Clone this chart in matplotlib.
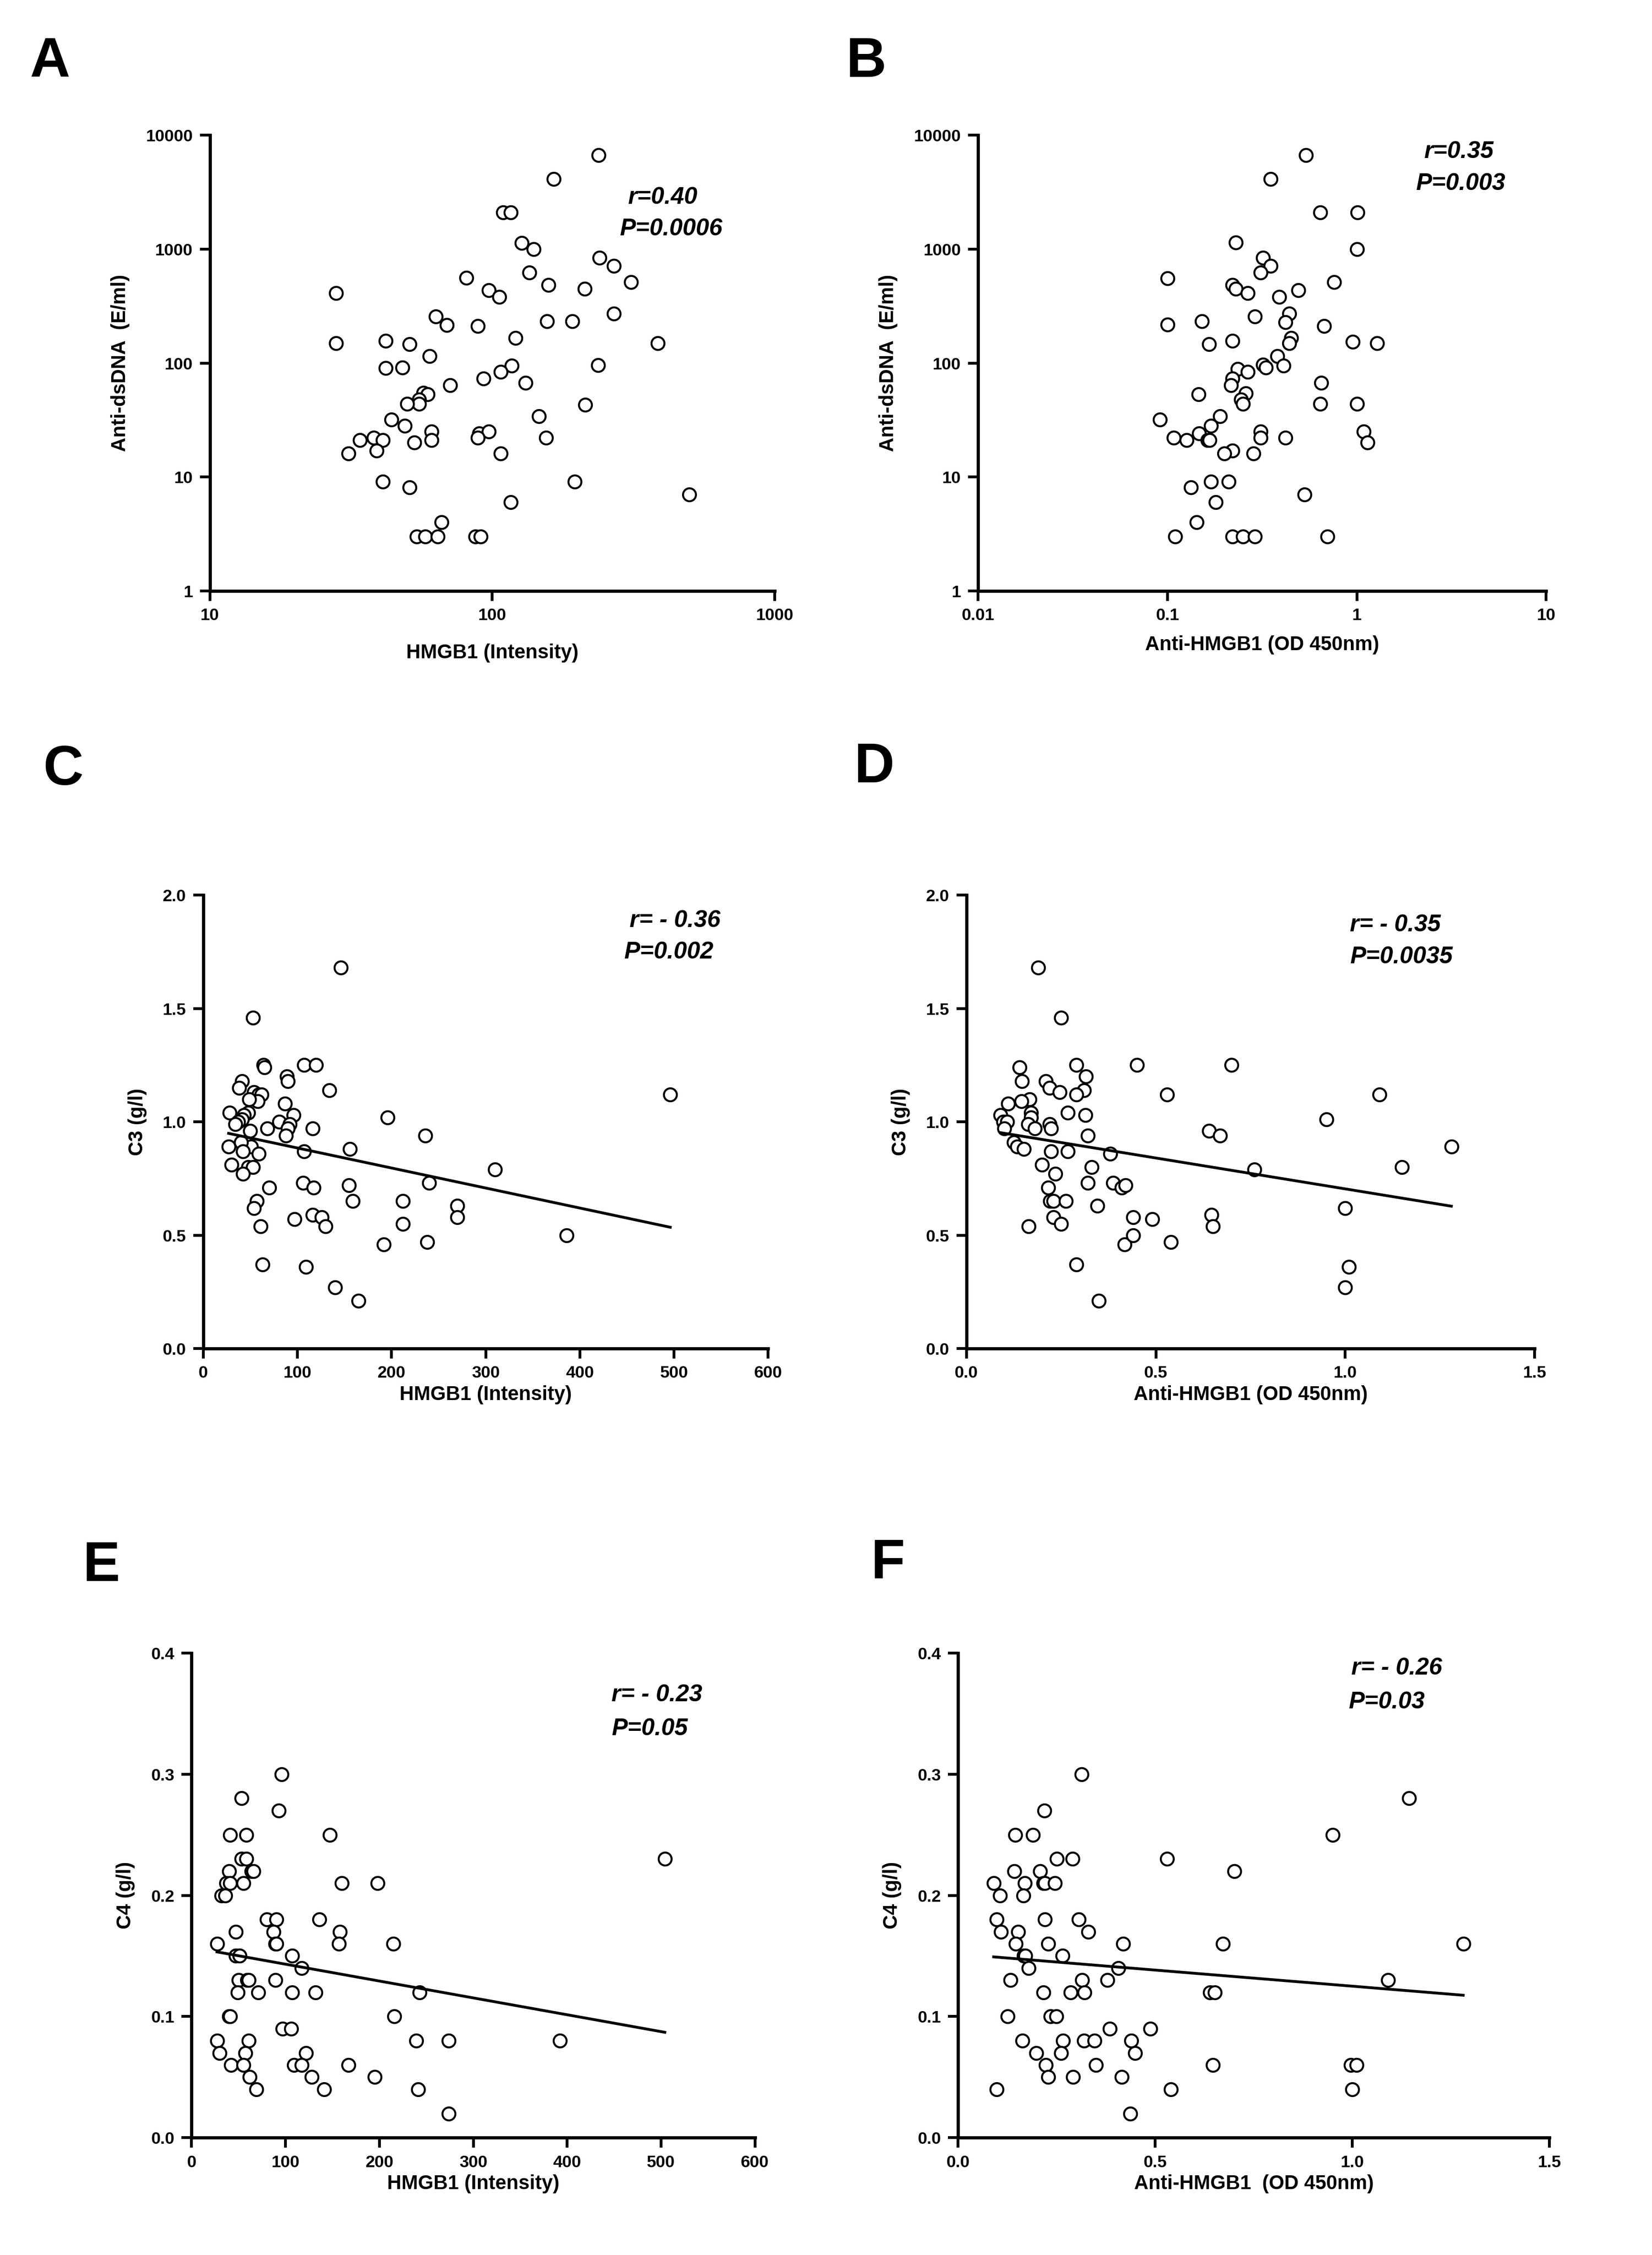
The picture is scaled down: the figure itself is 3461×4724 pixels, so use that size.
import numpy as np
import matplotlib
matplotlib.use("Agg")
import matplotlib.pyplot as plt
from matplotlib.ticker import FixedLocator, FixedFormatter, NullLocator

plt.rcParams['font.family'] = ['Liberation Sans', 'DejaVu Sans']
plt.rcParams['font.weight'] = 'bold'

# panel A: HMGB1 intensity vs anti-dsDNA
a_x = [238, 165, 109, 116, 127, 140, 240, 269, 135, 81, 310, 158, 212, 97, 106, 28, 269, 63,
       69, 89, 156, 192, 28, 42, 51, 385, 121, 60, 42, 48, 237, 117, 107, 93, 131, 71, 57, 59,
       55, 55, 50, 213, 146, 44, 49, 61, 61, 90, 97, 89, 155, 34, 38, 41, 53, 39, 31, 107, 41,
       51, 196, 116, 497, 66, 54, 58, 64, 87, 91]
a_y = [6700, 4150, 2110, 2110, 1130, 1000, 840, 714, 624, 558, 515, 484, 448, 437, 381, 410, 272,
       256, 216, 211, 232, 232, 149, 157, 146, 149, 166, 115, 90, 91, 96, 95, 84, 73, 67, 64, 55,
       53, 48, 44, 44, 43, 34, 32, 28, 25, 21, 24, 25, 22, 22, 21, 22, 21, 20, 17, 16, 16, 9.1,
       8.1, 9.1, 6.0, 7.0, 4.0, 3, 3, 3, 3, 3]

# panel B: anti-HMGB1 OD vs anti-dsDNA
b_x = [0.54, 0.35, 0.64, 1.01, 0.23, 1.0, 0.32, 0.35, 0.31, 0.1, 0.76, 0.22, 0.23, 0.265, 0.49,
       0.39, 0.44, 0.29, 0.42, 0.1, 0.152, 0.67, 0.45, 0.44, 0.22, 0.166, 0.95, 1.28, 0.38, 0.32,
       0.33, 0.41, 0.235, 0.266, 0.22, 0.216, 0.65, 0.146, 0.26, 0.245, 0.25, 0.64, 1.0, 0.091,
       0.19, 0.17, 1.09, 0.31, 0.31, 0.42, 0.147, 0.108, 0.126, 0.163, 0.167, 1.14, 0.22, 0.2,
       0.285, 0.17, 0.21, 0.133, 0.53, 0.18, 0.143, 0.11, 0.22, 0.25, 0.29, 0.70]
b_y = [6700, 4150, 2110, 2110, 1150, 1000, 840, 714, 624, 555, 515, 484, 448, 410, 435, 380, 273,
       256, 229, 217, 232, 211, 166, 149, 157, 146, 154, 150, 115, 97, 91, 95, 89, 84, 73, 64, 67,
       53, 54, 48, 44, 44, 44, 32, 34, 28, 25, 25, 22, 22, 24, 22, 21, 21, 21, 20, 17, 16, 16,
       9.1, 9.1, 8.1, 7.0, 6.0, 4.0, 3, 3, 3, 3, 3]

# panel C: HMGB1 intensity vs C3
c_x = [146, 53, 64, 65, 107, 120, 89, 90, 41, 38, 134, 54, 59, 62, 58, 49, 87, 28, 48, 43, 41,
       37, 34, 81, 96, 92, 90, 88, 196, 68, 116, 50, 236, 27, 51, 40, 42, 59, 107, 156, 30, 48,
       53, 42, 310, 70, 106, 117, 155, 240, 57, 54, 159, 212, 270, 270, 97, 116, 126, 130, 212,
       61, 386, 192, 238, 63, 109, 140, 165, 496]
c_y = [1.68, 1.46, 1.25, 1.24, 1.25, 1.25, 1.20, 1.18, 1.18, 1.15, 1.14, 1.13, 1.12, 1.12, 1.09,
       1.10, 1.08, 1.04, 1.04, 1.03, 1.01, 1.00, 0.99, 1.00, 1.03, 0.99, 0.97, 0.94, 1.02, 0.97,
       0.97, 0.96, 0.94, 0.89, 0.89, 0.91, 0.87, 0.86, 0.87, 0.88, 0.81, 0.80, 0.80, 0.77, 0.79,
       0.71, 0.73, 0.71, 0.72, 0.73, 0.65, 0.62, 0.65, 0.65, 0.63, 0.58, 0.57, 0.59, 0.58, 0.54,
       0.55, 0.54, 0.50, 0.46, 0.47, 0.37, 0.36, 0.27, 0.21, 1.12]

# panel D: anti-HMGB1 OD vs C3
d_x = [0.19, 0.25, 0.14, 0.29, 0.45, 0.70, 0.147, 0.21, 0.22, 0.246, 0.315, 0.31, 0.29, 0.53,
       1.09, 0.167, 0.145, 0.11, 0.09, 0.097, 0.108, 0.10, 0.17, 0.17, 0.163, 0.18, 0.22, 0.223,
       0.267, 0.314, 0.32, 0.64, 0.67, 0.95, 0.125, 0.134, 0.152, 0.224, 0.267, 0.38, 1.28, 0.20,
       0.33, 0.235, 0.76, 1.15, 0.32, 0.387, 0.41, 0.42, 0.216, 0.221, 0.23, 0.262, 0.345, 1.0,
       0.23, 0.25, 0.164, 0.44, 0.49, 0.647, 0.65, 0.417, 0.44, 0.54, 0.29, 1.01, 1.0, 0.35]
d_y = [1.68, 1.46, 1.24, 1.25, 1.25, 1.25, 1.18, 1.18, 1.15, 1.13, 1.20, 1.14, 1.12, 1.12, 1.12,
       1.10, 1.09, 1.08, 1.03, 1.00, 1.00, 0.97, 1.04, 1.02, 0.99, 0.97, 0.99, 0.97, 1.04, 1.03,
       0.94, 0.96, 0.94, 1.01, 0.91, 0.89, 0.88, 0.87, 0.87, 0.86, 0.89, 0.81, 0.80, 0.77, 0.79,
       0.80, 0.73, 0.73, 0.71, 0.72, 0.71, 0.65, 0.65, 0.65, 0.63, 0.62, 0.58, 0.55, 0.54, 0.58,
       0.57, 0.59, 0.54, 0.46, 0.50, 0.47, 0.37, 0.36, 0.27, 0.21]

# panel E: HMGB1 intensity vs C4
e_x = [96, 53, 93, 41, 58, 147, 53, 58, 504, 40, 64, 66, 37, 41, 55, 160, 198, 32, 36, 80, 90,
       136, 47, 87, 158, 27, 89, 90, 157, 215, 47, 51, 107, 117, 50, 59, 61, 89, 49, 71, 107, 132,
       243, 40, 41, 216, 97, 106, 27, 61, 239, 274, 392, 30, 57, 122, 42, 55, 109, 117, 167, 62,
       128, 195, 69, 141, 241, 274]
e_y = [0.30, 0.28, 0.27, 0.25, 0.25, 0.25, 0.23, 0.23, 0.23, 0.22, 0.22, 0.22, 0.21, 0.21, 0.21,
       0.21, 0.21, 0.20, 0.20, 0.18, 0.18, 0.18, 0.17, 0.17, 0.17, 0.16, 0.16, 0.16, 0.16, 0.16,
       0.15, 0.15, 0.15, 0.14, 0.13, 0.13, 0.13, 0.13, 0.12, 0.12, 0.12, 0.12, 0.12, 0.10, 0.10,
       0.10, 0.09, 0.09, 0.08, 0.08, 0.08, 0.08, 0.08, 0.07, 0.07, 0.07, 0.06, 0.06, 0.06, 0.06,
       0.06, 0.05, 0.05, 0.05, 0.04, 0.04, 0.04, 0.02]

# panel F: anti-HMGB1 OD vs C4
f_x = [0.313, 1.144, 0.219, 0.145, 0.19, 0.95, 0.25, 0.29, 0.53, 0.142, 0.208, 0.70, 0.09, 0.169,
       0.216, 0.22, 0.245, 0.106, 0.165, 0.098, 0.22, 0.306, 0.108, 0.152, 0.33, 0.146, 0.228,
       0.419, 0.671, 1.281, 0.166, 0.17, 0.265, 0.179, 0.406, 0.133, 0.314, 0.378, 1.09, 0.216,
       0.285, 0.32, 0.639, 0.651, 0.125, 0.234, 0.249, 0.385, 0.488, 0.163, 0.266, 0.319, 0.346,
       0.439, 0.198, 0.261, 0.449, 0.222, 0.349, 0.646, 0.996, 1.01, 0.228, 0.291, 0.415, 0.098,
       0.54, 1.0, 0.436]
f_y = [0.30, 0.28, 0.27, 0.25, 0.25, 0.25, 0.23, 0.23, 0.23, 0.22, 0.22, 0.22, 0.21, 0.21, 0.21,
       0.21, 0.21, 0.20, 0.20, 0.18, 0.18, 0.18, 0.17, 0.17, 0.17, 0.16, 0.16, 0.16, 0.16, 0.16,
       0.15, 0.15, 0.15, 0.14, 0.14, 0.13, 0.13, 0.13, 0.13, 0.12, 0.12, 0.12, 0.12, 0.12, 0.10,
       0.10, 0.10, 0.09, 0.09, 0.08, 0.08, 0.08, 0.08, 0.08, 0.07, 0.07, 0.07, 0.06, 0.06, 0.06,
       0.06, 0.06, 0.05, 0.05, 0.05, 0.04, 0.04, 0.04, 0.02]

stats = {
    "A": ("r=0.40", "P=0.0006"), "B": ("r=0.35", "P=0.003"),
    "C": ("r= - 0.36", "P=0.002"), "D": ("r= - 0.35", "P=0.0035"),
    "E": ("r= - 0.23", "P=0.05"), "F": ("r= - 0.26", "P=0.03"),
}

fig = plt.figure(figsize=(3461 / 300, 4724 / 300), dpi=300)


def style(ax):
    for s in ["top", "right"]:
        ax.spines[s].set_visible(False)
    for s in ["left", "bottom"]:
        ax.spines[s].set_linewidth(1.6)
    ax.tick_params(width=1.4, length=5, labelsize=8.5, direction="out")
    for lbl in ax.get_xticklabels() + ax.get_yticklabels():
        lbl.set_fontweight("bold")


def scatter(ax, x, y):
    ax.plot(x, y, "o", ms=6.5, mfc="white", mec="black", mew=1.0, ls="none", clip_on=False)


def fit_line(ax, x, y):
    x = np.asarray(x); y = np.asarray(y)
    k, b = np.polyfit(x, y, 1)
    xs = np.array([x.min(), x.max()])
    ax.plot(xs, k * xs + b, color="black", lw=1.4)


def note(ax, key, pos_r, pos_p):
    r, p = stats[key]
    ax.text(*pos_r, r, transform=ax.transAxes, fontsize=12, fontweight="bold", style="italic")
    ax.text(*pos_p, p, transform=ax.transAxes, fontsize=12, fontweight="bold", style="italic")


def log_axes(ax, xticks, xlabels):
    ax.set_xscale("log"); ax.set_yscale("log")
    ax.set_xlim(xticks[0], xticks[-1]); ax.set_ylim(1, 10000)
    ax.xaxis.set_major_locator(FixedLocator(xticks))
    ax.xaxis.set_major_formatter(FixedFormatter(xlabels))
    ax.xaxis.set_minor_locator(NullLocator())
    ax.yaxis.set_major_locator(FixedLocator([1, 10, 100, 1000, 10000]))
    ax.yaxis.set_major_formatter(FixedFormatter(["1", "10", "100", "1000", "10000"]))
    ax.yaxis.set_minor_locator(NullLocator())
    ax.set_ylabel("Anti-dsDNA  (E/ml)", fontsize=10, fontweight="bold", labelpad=8)


# A
ax = fig.add_axes([0.127, 0.738, 0.342, 0.202])
scatter(ax, a_x, a_y)
log_axes(ax, [10, 100, 1000], ["10", "100", "1000"])
ax.set_xlabel("HMGB1 (Intensity)", fontsize=10, fontweight="bold", labelpad=10)
note(ax, "A", (0.74, 0.85), (0.725, 0.78))
style(ax)

# B
ax = fig.add_axes([0.592, 0.738, 0.344, 0.202])
scatter(ax, b_x, b_y)
log_axes(ax, [0.01, 0.1, 1, 10], ["0.01", "0.1", "1", "10"])
ax.set_xlabel("Anti-HMGB1 (OD 450nm)", fontsize=10, fontweight="bold", labelpad=6)
note(ax, "B", (0.785, 0.95), (0.77, 0.88))
style(ax)


def lin_axes(ax, xmax, xstep, xfmt, ymax, ystep, ylabel):
    ax.set_xlim(0, xmax); ax.set_ylim(0, ymax)
    ax.set_xticks(np.arange(0, xmax + xstep / 2, xstep))
    ax.set_yticks(np.arange(0, ymax + ystep / 2, ystep))
    ax.xaxis.set_major_formatter(plt.FuncFormatter(lambda v, _: xfmt.format(v)))
    ax.yaxis.set_major_formatter(plt.FuncFormatter(lambda v, _: "{:.1f}".format(v)))
    ax.set_ylabel(ylabel, fontsize=10, fontweight="bold", labelpad=8)


# C
ax = fig.add_axes([0.123, 0.402, 0.342, 0.201])
scatter(ax, c_x, c_y); fit_line(ax, c_x, c_y)
lin_axes(ax, 600, 100, "{:.0f}", 2.0, 0.5, "C3 (g/l)")
ax.set_xlabel("HMGB1 (Intensity)", fontsize=10, fontweight="bold", labelpad=2)
note(ax, "C", (0.755, 0.93), (0.745, 0.86))
style(ax)

# D
ax = fig.add_axes([0.585, 0.402, 0.344, 0.201])
scatter(ax, d_x, d_y); fit_line(ax, d_x, d_y)
lin_axes(ax, 1.5, 0.5, "{:.1f}", 2.0, 0.5, "C3 (g/l)")
ax.set_xlabel("Anti-HMGB1 (OD 450nm)", fontsize=10, fontweight="bold", labelpad=2)
note(ax, "D", (0.675, 0.92), (0.675, 0.85))
style(ax)

# E
ax = fig.add_axes([0.116, 0.052, 0.341, 0.215])
scatter(ax, e_x, e_y); fit_line(ax, e_x, e_y)
lin_axes(ax, 600, 100, "{:.0f}", 0.4, 0.1, "C4 (g/l)")
ax.set_xlabel("HMGB1 (Intensity)", fontsize=10, fontweight="bold", labelpad=2)
note(ax, "E", (0.745, 0.90), (0.745, 0.83))
style(ax)

# F
ax = fig.add_axes([0.580, 0.052, 0.358, 0.215])
scatter(ax, f_x, f_y); fit_line(ax, f_x, f_y)
lin_axes(ax, 1.5, 0.5, "{:.1f}", 0.4, 0.1, "C4 (g/l)")
ax.set_xlabel("Anti-HMGB1  (OD 450nm)", fontsize=10, fontweight="bold", labelpad=2)
note(ax, "F", (0.665, 0.955), (0.66, 0.885))
style(ax)

for letter, (x, y) in {"A": (0.018, 0.966), "B": (0.512, 0.966), "C": (0.026, 0.652),
                       "D": (0.517, 0.653), "E": (0.050, 0.299), "F": (0.527, 0.300)}.items():
    fig.text(x, y, letter, fontsize=28, fontweight="bold")

fig.savefig("out.png", dpi=300)
